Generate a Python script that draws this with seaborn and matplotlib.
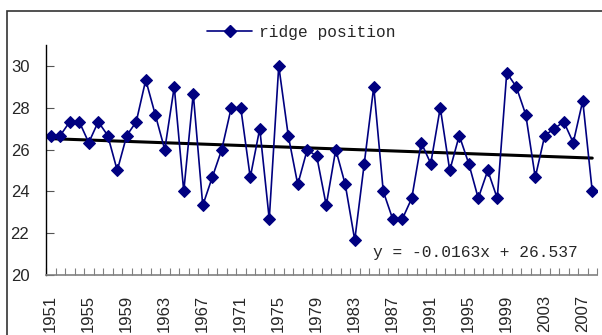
import numpy as np
import pandas as pd
import matplotlib
matplotlib.use("Agg")
import matplotlib.pyplot as plt
from matplotlib.patches import Rectangle
from matplotlib.lines import Line2D
import seaborn as sns

# ── Data ──────────────────────────────────────────────────────────
years = list(range(1951, 2009))
ridge = [
    26.67, 26.67, 27.33, 27.33, 26.33, 27.33, 26.67, 25.00, 26.67, 27.33,
    29.33, 27.67, 26.00, 29.00, 24.00, 28.67, 23.33, 24.67, 26.00, 28.00,
    28.00, 24.67, 27.00, 22.67, 30.00, 26.67, 24.33, 26.00, 25.67, 23.33,
    26.00, 24.33, 21.67, 25.33, 29.00, 24.00, 22.67, 22.67, 23.67, 26.33,
    25.33, 28.00, 25.00, 26.67, 25.33, 23.67, 25.00, 23.67, 29.67, 29.00,
    27.67, 24.67, 26.67, 27.00, 27.33, 26.33, 28.33, 24.00,
]
trend_slope = -0.0163
trend_intercept = 26.537
year_labels = list(range(1951, 2009, 4))
y_ticks = [20, 22, 24, 26, 28, 30]

NAVY = "#000080"

# ── Style ─────────────────────────────────────────────────────────
sns.set_style("white")
plt.rcParams["font.family"] = ["Liberation Sans", "DejaVu Sans"]

df = pd.DataFrame({"year": years, "ridge": ridge})
df["trend"] = trend_slope * (df["year"] - 1950) + trend_intercept

fig = plt.figure(figsize=(6.02, 3.35), dpi=100)
ax = fig.add_axes([46 / 602, 1 - 275 / 335, (597 - 46) / 602, (275 - 45) / 335])

sns.lineplot(data=df, x="year", y="trend", ax=ax, color="black", lw=2.2)
sns.lineplot(data=df, x="year", y="ridge", ax=ax, color=NAVY, lw=1.2,
             marker="D", markersize=6.5, markeredgecolor=NAVY)

ax.set_xlim(1950.5, 2008.5)
ax.set_ylim(20, 31)
ax.set_xlabel("")
ax.set_ylabel("")

# x axis: labels every 4 years, small tick between each category
ax.set_xticks(year_labels)
ax.set_xticklabels([str(y) for y in year_labels], rotation=90, fontsize=12)
ax.set_xticks(np.arange(1950.5, 2009, 1.0), minor=True)
ax.tick_params(axis="x", which="major", length=0, pad=14)
ax.tick_params(axis="x", which="minor", direction="in", length=5,
               width=0.8, color="#808080", bottom=True)

ax.set_yticks(y_ticks)
ax.set_yticklabels([str(v) for v in y_ticks], fontsize=12)
ax.tick_params(axis="y", which="major", direction="in", length=6,
               width=0.8, color="#555555", pad=12, left=True)

for s in ["top", "right"]:
    ax.spines[s].set_visible(False)
ax.spines["left"].set_color("black")
ax.spines["left"].set_linewidth(1.0)
ax.spines["bottom"].set_color("#808080")
ax.spines["bottom"].set_linewidth(1.2)

ax.text(1984.9, 21.1, f"y = {trend_slope}x + {trend_intercept}",
        family="Liberation Mono", fontsize=11.7, ha="left", va="center")

# legend at the top of the chart
handle = Line2D([], [], color=NAVY, lw=1.2, marker="D", markersize=6.5,
                markeredgecolor=NAVY)
fig.legend([handle], ["ridge position"], loc="center",
           bbox_to_anchor=(0.5, 1 - 32 / 335), frameon=False,
           prop={"family": "Liberation Mono", "size": 11.7},
           handlelength=2.8, handletextpad=0.4)

# chart frame (cropped at right and bottom in the original)
fig.add_artist(Rectangle((6.5 / 602, -0.2), 1.2, 0.2 + (1 - 11.5 / 335),
                         transform=fig.transFigure, fill=False,
                         edgecolor="#333333", lw=1.2))

fig.savefig("out.png", dpi=100)
plt.close()
